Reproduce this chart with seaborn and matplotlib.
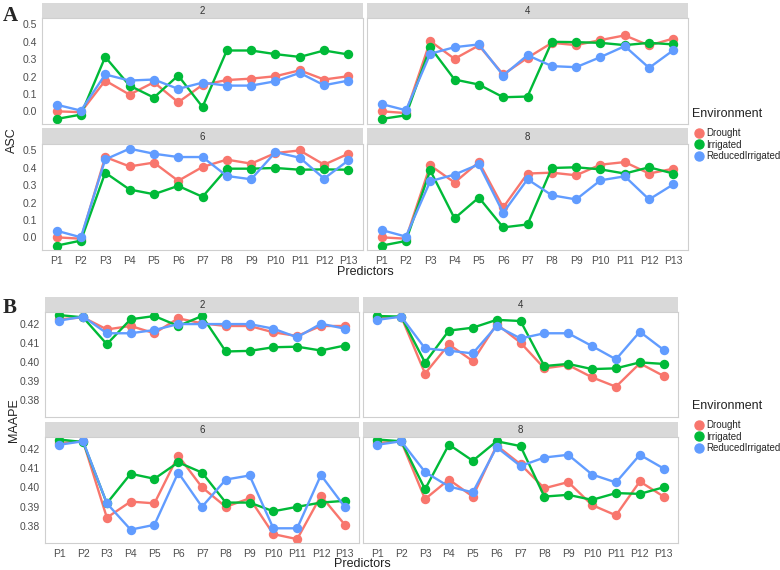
import matplotlib
matplotlib.use("Agg")
import matplotlib.pyplot as plt
import seaborn as sns
import pandas as pd
from matplotlib.lines import Line2D

predictors = ["P1", "P2", "P3", "P4", "P5", "P6", "P7", "P8", "P9", "P10", "P11", "P12", "P13"]
environments = ["Drought", "Irrigated", "ReducedIrrigated"]
facets = ["2", "4", "6", "8"]
colors = ["#F8766D", "#00BA38", "#619CFF"]

# ASC values per facet
asc_2_drought = [0.0, -0.005, 0.177, 0.096, 0.167, 0.052, 0.152, 0.18, 0.188, 0.202, 0.236, 0.183, 0.202]
asc_2_irrigated = [-0.044, -0.019, 0.313, 0.148, 0.079, 0.206, 0.025, 0.35, 0.35, 0.329, 0.313, 0.35, 0.327]
asc_2_reduced = [0.038, 0.004, 0.212, 0.177, 0.183, 0.129, 0.165, 0.148, 0.148, 0.173, 0.221, 0.15, 0.177]

asc_4_drought = [0.0, -0.01, 0.404, 0.302, 0.379, 0.212, 0.308, 0.394, 0.381, 0.41, 0.437, 0.379, 0.419]
asc_4_irrigated = [-0.044, -0.023, 0.369, 0.183, 0.154, 0.081, 0.085, 0.40, 0.398, 0.394, 0.381, 0.394, 0.385]
asc_4_reduced = [0.042, 0.006, 0.331, 0.369, 0.385, 0.206, 0.323, 0.26, 0.254, 0.312, 0.375, 0.25, 0.352]

asc_6_drought = [0.0, -0.008, 0.462, 0.408, 0.43, 0.325, 0.405, 0.447, 0.424, 0.485, 0.5, 0.418, 0.481]
asc_6_irrigated = [-0.048, -0.019, 0.372, 0.275, 0.248, 0.296, 0.233, 0.395, 0.395, 0.399, 0.389, 0.391, 0.389]
asc_6_reduced = [0.038, 0.0, 0.448, 0.51, 0.481, 0.462, 0.462, 0.353, 0.334, 0.49, 0.458, 0.338, 0.443]

asc_8_drought = [0.0, -0.008, 0.414, 0.315, 0.433, 0.172, 0.367, 0.372, 0.357, 0.418, 0.433, 0.367, 0.395]
asc_8_irrigated = [-0.048, -0.021, 0.385, 0.109, 0.229, 0.057, 0.074, 0.399, 0.403, 0.391, 0.367, 0.403, 0.367]
asc_8_reduced = [0.042, 0.004, 0.323, 0.361, 0.42, 0.141, 0.334, 0.242, 0.218, 0.328, 0.351, 0.218, 0.305]

# MAAPE values per facet
maape_2_drought = [0.4223, 0.4233, 0.417, 0.4188, 0.415, 0.4228, 0.4202, 0.4188, 0.4188, 0.4155, 0.4136, 0.4188, 0.4188]
maape_2_irrigated = [0.4245, 0.4233, 0.4093, 0.4223, 0.424, 0.4188, 0.424, 0.4055, 0.4058, 0.4077, 0.408, 0.406, 0.4086]
maape_2_reduced = [0.4216, 0.4237, 0.415, 0.415, 0.4167, 0.4198, 0.4198, 0.4198, 0.4198, 0.4174, 0.4129, 0.42, 0.4174]

maape_4_drought = [0.4228, 0.4237, 0.394, 0.4092, 0.4005, 0.4198, 0.4101, 0.3967, 0.3984, 0.392, 0.3871, 0.3993, 0.3927]
maape_4_irrigated = [0.424, 0.4237, 0.3997, 0.4164, 0.4179, 0.422, 0.4214, 0.3979, 0.399, 0.3963, 0.3967, 0.3998, 0.399]
maape_4_reduced = [0.422, 0.4237, 0.4071, 0.4059, 0.4045, 0.4188, 0.4123, 0.415, 0.415, 0.4083, 0.4014, 0.4158, 0.4063]

maape_6_drought = [0.423, 0.4239, 0.3844, 0.3927, 0.3918, 0.4165, 0.4001, 0.39, 0.3944, 0.3759, 0.3733, 0.3957, 0.3808]
maape_6_irrigated = [0.4248, 0.4235, 0.3918, 0.4071, 0.4045, 0.413, 0.4077, 0.3922, 0.3922, 0.3877, 0.39, 0.3922, 0.3931]
maape_6_reduced = [0.4221, 0.4239, 0.3918, 0.3782, 0.3807, 0.4077, 0.39, 0.4041, 0.4062, 0.3789, 0.3789, 0.4064, 0.39]

maape_8_drought = [0.423, 0.4239, 0.394, 0.4041, 0.3953, 0.4217, 0.412, 0.3996, 0.4028, 0.3909, 0.3856, 0.4031, 0.3953]
maape_8_irrigated = [0.4248, 0.4239, 0.3991, 0.4222, 0.4138, 0.4239, 0.4214, 0.3953, 0.3962, 0.3936, 0.3971, 0.3967, 0.4001]
maape_8_reduced = [0.4221, 0.4239, 0.408, 0.4005, 0.3975, 0.4208, 0.4111, 0.4155, 0.4169, 0.4067, 0.4026, 0.4169, 0.4098]

series = {
    ("ASC", "2"): [asc_2_drought, asc_2_irrigated, asc_2_reduced],
    ("ASC", "4"): [asc_4_drought, asc_4_irrigated, asc_4_reduced],
    ("ASC", "6"): [asc_6_drought, asc_6_irrigated, asc_6_reduced],
    ("ASC", "8"): [asc_8_drought, asc_8_irrigated, asc_8_reduced],
    ("MAAPE", "2"): [maape_2_drought, maape_2_irrigated, maape_2_reduced],
    ("MAAPE", "4"): [maape_4_drought, maape_4_irrigated, maape_4_reduced],
    ("MAAPE", "6"): [maape_6_drought, maape_6_irrigated, maape_6_reduced],
    ("MAAPE", "8"): [maape_8_drought, maape_8_irrigated, maape_8_reduced],
}

rows = []
for (metric, facet), vals in series.items():
    for env, v in zip(environments, vals):
        for p, y in zip(predictors, v):
            rows.append({"Metric": metric, "Facet": facet, "Environment": env, "Predictor": p, "value": y})
df = pd.DataFrame(rows)

sns.set_style("white")
plt.rcParams["font.family"] = ["Liberation Sans", "DejaVu Sans"]

W, H = 780, 570
fig = plt.figure(figsize=(7.8, 5.7), dpi=100)


def fbox(x0, y0, x1, y1):
    return [x0 / W, 1 - y1 / H, (x1 - x0) / W, (y1 - y0) / H]


tick_color = "#4D4D4D"
border = "#CFCFCF"

panels = {
    "ASC": dict(cols=[(42, 363), (367, 688)],
                rows=[(3, 18, 124), (128, 144, 250)],
                ylim=(-0.073, 0.537),
                yticks=[0.0, 0.1, 0.2, 0.3, 0.4, 0.5],
                fmt="{:.1f}"),
    "MAAPE": dict(cols=[(45, 359), (363, 678)],
                  rows=[(297, 312, 417), (422, 437, 543)],
                  ylim=(0.3713, 0.4261),
                  yticks=[0.38, 0.39, 0.40, 0.41, 0.42],
                  fmt="{:.2f}"),
}

for metric, cfg in panels.items():
    for i, facet in enumerate(facets):
        r, c = divmod(i, 2)
        x0, x1 = cfg["cols"][c]
        s0, s1, p1 = cfg["rows"][r]
        # strip
        sax = fig.add_axes(fbox(x0, s0, x1, s1))
        sax.set_facecolor("#D9D9D9")
        sax.set_xticks([])
        sax.set_yticks([])
        for sp in sax.spines.values():
            sp.set_visible(False)
        sax.text(0.5, 0.45, facet, ha="center", va="center", fontsize=7, color="#333333",
                 transform=sax.transAxes)
        # panel
        ax = fig.add_axes(fbox(x0, s1, x1, p1))
        sub = df[(df.Metric == metric) & (df.Facet == facet)]
        sns.pointplot(data=sub, x="Predictor", y="value", hue="Environment",
                      order=predictors, hue_order=environments, palette=colors,
                      markers="o", markersize=5.5, linewidth=1.7, errorbar=None,
                      legend=False, ax=ax)
        ax.set_xlim(-0.6, 12.6)
        ax.set_ylim(*cfg["ylim"])
        ax.set_yticks(cfg["yticks"])
        ax.set_xlabel("")
        ax.set_ylabel("")
        for sp in ax.spines.values():
            sp.set_color(border)
            sp.set_linewidth(0.8)
        if c == 0:
            ax.set_yticklabels([cfg["fmt"].format(t) for t in cfg["yticks"]])
            ax.tick_params(axis="y", length=2.5, width=0.6, color="#555555", pad=1,
                           labelsize=7.5, labelcolor=tick_color)
        else:
            ax.tick_params(axis="y", length=0, labelleft=False)
        if r == 1:
            ax.tick_params(axis="x", length=2.5, width=0.6, color="#555555", pad=2,
                           labelsize=7.5, labelcolor=tick_color)
        else:
            ax.tick_params(axis="x", length=0, labelbottom=False)

# axis titles
fig.text(365 / W, 1 - 272 / H, "Predictors", ha="center", va="center", fontsize=9, color="#222222")
fig.text(362 / W, 1 - 564 / H, "Predictors", ha="center", va="center", fontsize=9, color="#222222")
fig.text(12 / W, 1 - 140 / H, "ASC", ha="center", va="center", rotation=90, fontsize=9, color="#222222")
fig.text(14 / W, 1 - 420 / H, "MAAPE", ha="center", va="center", rotation=90, fontsize=9, color="#222222")

# panel letters
fig.text(3 / W, 1 - 16 / H, "A", ha="left", va="center", fontsize=15, fontweight="bold",
         family="Liberation Serif")
fig.text(3 / W, 1 - 308 / H, "B", ha="left", va="center", fontsize=15, fontweight="bold",
         family="Liberation Serif")

# legends
handles = [Line2D([], [], marker="o", linestyle="", markersize=6.5, color=col) for col in colors]
for ty in (108, 400):
    leg = fig.legend(handles, environments, title="Environment",
                     loc="upper left", bbox_to_anchor=(692 / W, 1 - ty / H),
                     frameon=False, fontsize=7, title_fontsize=9,
                     handletextpad=0.1, handlelength=1.4, labelspacing=0.15,
                     borderaxespad=0, borderpad=0)
    leg._legend_box.align = "left"
    leg._legend_box.sep = 6
    leg.get_title().set_color("#222222")

fig.savefig("out.png", dpi=100)
